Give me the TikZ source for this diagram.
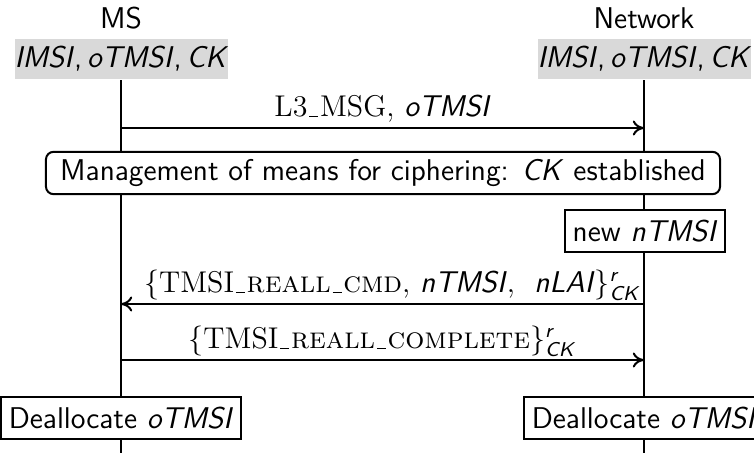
\documentclass[tikz,border=0pt]{standalone}
\usepackage{amsmath,amssymb}
\usepackage{xcolor}
\usepackage{tikz}
\usetikzlibrary{arrows.meta, positioning, calc}
\definecolor{initgray}{RGB}{217,217,217}
\newcommand{\vname}[1]{\textsf{\textit{#1}}}
\newcommand{\usc}{\leavevmode\kern.06em\vbox{\hrule width.3em height .4pt}\kern.06em}
\newcommand{\initknow}{\vname{IMSI}\/,\,\vname{oTMSI}\/,\,\vname{CK}}

\begin{document}
\begin{tikzpicture}[x=0.4pt, y=-0.4pt, line width=0.8pt,
  actor/.style={font=\sffamily\large},
  initbox/.style={fill=initgray, font=\sffamily\large, minimum width=85.2pt, minimum height=16pt, inner sep=0pt},
  actbox/.style={draw, fill=white, font=\sffamily\large, minimum height=16.8pt, inner sep=3pt},
  msgline/.style={-{To[length=4.5pt,width=6pt]}},
  msglabel/.style={anchor=base, yshift=4.6pt, font=\large, inner sep=0pt}]
\useasboundingbox (0,0) rectangle (754,453);
% actors and initial knowledge
\node[actor] (ms) at (121,18) {MS};
\node[actor] (net) at (644,18) {Network};
\node[initbox] (msinit) at (121.5,59) {\initknow};
\node[initbox] (netinit) at (644.5,59) {\initknow};
\coordinate (msend) at (121,453);
\coordinate (netend) at (644,453);
\draw (msinit.south -| msend) -- (msend);
\draw (netinit.south -| netend) -- (netend);
% messages
\coordinate (m1s) at (121,128);
\coordinate (m1e) at (644,128);
\draw[msgline] (m1s) -- node[msglabel] {L3\usc MSG, \vname{oTMSI}} (m1e);
\node[actbox, rounded corners=3pt, minimum width=269.6pt, minimum height=15.2pt] (mgmt) at (383,173)
  {Management of means for ciphering: \vname{CK} established};
\node[actbox] (newtmsi) at (645,231) {new \vname{nTMSI}};
\coordinate (m2s) at (644,304);
\coordinate (m2e) at (121,304);
\draw[msgline] (m2s) -- node[msglabel, xshift=4pt]
  {$\{$TMSI\usc\textsc{reall\usc cmd}, \vname{nTMSI}, \ \vname{nLAI}$\}^{\text{\vname{r}}}_{\text{\vname{CK}}}$} (m2e);
\coordinate (m3s) at (121,360);
\coordinate (m3e) at (644,360);
\draw[msgline] (m3s) -- node[msglabel]
  {$\{$TMSI\usc\textsc{reall\usc complete}$\}^{\text{\vname{r}}}_{\text{\vname{CK}}}$} (m3e);
% deallocation
\node[actbox] (msdel) at (121,418) {Deallocate \vname{oTMSI}};
\node[actbox] (netdel) at (644,418) {Deallocate \vname{oTMSI}};
\end{tikzpicture}
\end{document}
